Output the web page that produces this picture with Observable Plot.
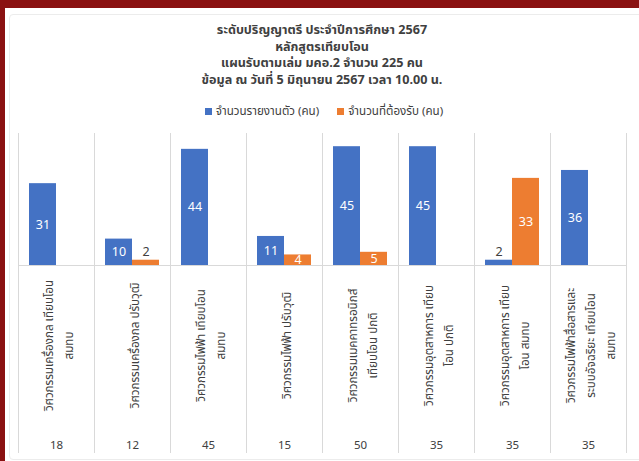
<!DOCTYPE html>
<html>
<head>
<meta charset="utf-8">
<script src="https://cdn.jsdelivr.net/npm/d3@7"></script>
<script src="https://cdn.jsdelivr.net/npm/@observablehq/plot@0.6"></script>
<style>
  html, body { margin: 0; padding: 0; }
  body { width: 639px; height: 461px; background: #8a1111; position: relative; overflow: hidden;
         font-family: "Noto Sans Thai", Tahoma, "Leelawadee UI", "Noto Sans", sans-serif; color: #404040; }
  #panel { position: absolute; left: 5px; top: 8px; width: 634px; height: 453px; background: #fff; }
  #card { position: absolute; left: 9px; top: 14px; width: 640px; height: 444px; border: 1px solid #ececec; border-radius: 4px; }
  #title { position: absolute; left: 122px; top: 23px; width: 400px; text-align: center; font-size: 12.6px; font-weight: bold; line-height: 16.7px; color: #404040; }
  #legend { position: absolute; left: 124px; top: 104px; width: 400px; display: flex; justify-content: center; gap: 18px; font-size: 11.6px; line-height: 16px; color: #404040; }
  #legend span.sw { display: inline-block; width: 7px; height: 7px; margin-right: 4px; vertical-align: 0px; }
  #chart { position: absolute; left: 0; top: 125px; }
</style>
</head>
<body>
<div id="panel"></div>
<div id="card"></div>
<div id="title"></div>
<div id="legend"></div>
<div id="chart"></div>
<script>
const titleLines = [
  "ระดับปริญญาตรี ประจำปีการศึกษา 2567",
  "หลักสูตรเทียบโอน",
  "แผนรับตามเล่ม มคอ.2 จำนวน 225 คน",
  "ข้อมูล ณ วันที่ 5 มิถุนายน 2567 เวลา 10.00 น."
];
const seriesKeys = ["rep", "req"];
const seriesNames = ["จำนวนรายงานตัว (คน)", "จำนวนที่ต้องรับ (คน)"];
const seriesColors = ["#4472c4", "#ed7d31"];
const categories = [
  "วิศวกรรมเครื่องกล เทียบโอน\nสมทบ",
  "วิศวกรรมเครื่องกล ปรับวุฒิ",
  "วิศวกรรมไฟฟ้า เทียบโอน\nสมทบ",
  "วิศวกรรมไฟฟ้า ปรับวุฒิ",
  "วิศวกรรมเมคคาทรอนิกส์\nเทียบโอน ปกติ",
  "วิศวกรรมอุตสาหการ เทียบ\nโอน ปกติ",
  "วิศวกรรมอุตสาหการ เทียบ\nโอน สมทบ",
  "วิศวกรรมไฟฟ้าสื่อสารและ\nระบบอัจฉริยะ เทียบโอน\nสมทบ"
];
const reported = [31, 10, 44, 11, 45, 45, 2, 36];
const required = [0, 2, 0, 4, 5, 0, 33, 0];
const planned = [18, 12, 45, 15, 50, 35, 35, 35];

document.getElementById("title").innerHTML = titleLines.map(t => `<div>${t}</div>`).join("");
document.getElementById("legend").innerHTML = seriesNames.map((n, i) =>
  `<div><span class="sw" style="background:${seriesColors[i]}"></span>${n}</div>`).join("");

const rows = [];
categories.forEach((c, i) => {
  rows.push({category: c, series: "rep", value: reported[i]});
  rows.push({category: c, series: "req", value: required[i]});
});
const bars = rows.filter(d => d.value > 0);
const catRows = categories.map((c, i) => ({category: c, plan: planned[i]}));
const grid = "#d9d9d9";

const chart = Plot.plot({
  width: 639, height: 336,
  marginTop: 8, marginBottom: 196, marginLeft: 17, marginRight: 12,
  style: {fontFamily: '"Noto Sans Thai", Tahoma, "Leelawadee UI", "Noto Sans", sans-serif', background: "transparent"},
  fx: {domain: categories, padding: 0, axis: null},
  x: {domain: seriesKeys, paddingInner: 0, paddingOuter: 0.36, axis: null},
  y: {domain: [0, 50], axis: null},
  color: {domain: seriesKeys, range: seriesColors},
  marks: [
    Plot.frame({anchor: "left", stroke: grid, insetBottom: -187}),
    Plot.frame({anchor: "right", stroke: grid, insetBottom: -187}),
    Plot.ruleY([0], {stroke: grid}),
    Plot.barY(bars, {fx: "category", x: "series", y: "value", fill: "series"}),
    Plot.text(bars.filter(d => d.value >= 4), {fx: "category", x: "series", y: d => d.value / 2, text: d => String(d.value), fill: "white", fontSize: 12.5}),
    Plot.text(bars.filter(d => d.value < 4), {fx: "category", x: "series", y: "value", text: d => String(d.value), fill: "#404040", fontSize: 12.5, dy: -8}),
    Plot.text(catRows, {fx: "category", frameAnchor: "bottom", lineAnchor: "middle", text: "category", rotate: -90, dy: 80, fontSize: 11.6, lineHeight: 1.72, fill: "#404040"}),
    Plot.text(catRows, {fx: "category", frameAnchor: "bottom", lineAnchor: "middle", text: d => String(d.plan), dy: 180, fontSize: 11.5, fill: "#404040"})
  ]
});
document.getElementById("chart").appendChild(chart);
</script>
</body>
</html>
